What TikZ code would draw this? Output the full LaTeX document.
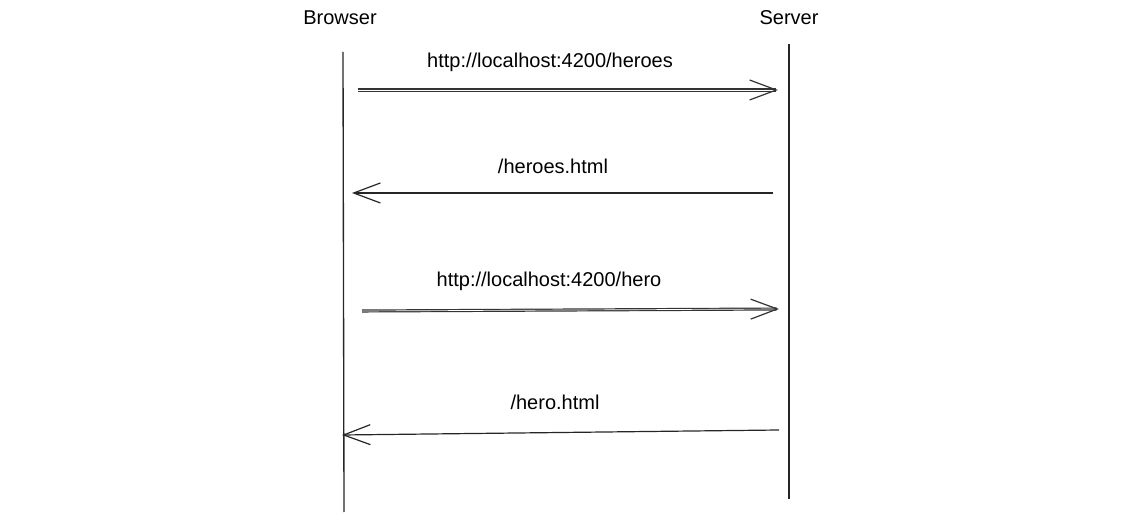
\documentclass[tikz,border=0pt]{standalone}
\usepackage{fontspec}
\setmainfont{Liberation Sans}
\usetikzlibrary{arrows.meta}

\begin{document}
\begin{tikzpicture}[x=0.75pt,y=-0.75pt,>={Straight Barb[length=20pt,width=15pt,line width=0.9pt]},
                    actor node/.style={font=\fontsize{15}{18}\selectfont,inner sep=0pt},
                    label node/.style={font=\fontsize{15}{18}\selectfont,inner sep=0pt},
                    life line/.style={draw=black!85,line width=1pt},
                    msg/.style={->,draw=black!80,line width=0.9pt,double distance=0.5pt},
                    single msg/.style={->,draw=black!85,line width=0.9pt}]
  \useasboundingbox (0,0) rectangle (1124,523);

  % actors
  \node[actor node] (browser) at (340,18) {Browser};
  \node[actor node] (server) at (789,18) {Server};

  % life lines
  \coordinate (b top) at (343,52);
  \coordinate (b bot) at (344,512);
  \coordinate (s top) at (789,44);
  \coordinate (s bot) at (789,499);
  \path[life line] (b top) -- (b bot);
  \path[life line] (s top) -- (s bot);

  % message ends
  \coordinate (m1 a) at (358,90);   \coordinate (m1 b) at (778,90);
  \coordinate (m2 a) at (773,193);  \coordinate (m2 b) at (352,193);
  \coordinate (m3 a) at (362,311);  \coordinate (m3 b) at (779,309);
  \coordinate (m4 a) at (779,430);  \coordinate (m4 b) at (342,435);

  \path[msg] (m1 a) -- (m1 b);
  \path[single msg] (m2 a) -- (m2 b);
  \path[msg] (m3 a) -- (m3 b);
  \path[single msg] (m4 a) -- (m4 b);

  % labels
  \node[label node] (l1) at (550,62) {http://localhost:4200/heroes};
  \node[label node] (l2) at (553,166) {/heroes.html};
  \node[label node] (l3) at (549,281) {http://localhost:4200/hero};
  \node[label node] (l4) at (555,402) {/hero.html};

\end{tikzpicture}
\end{document}
